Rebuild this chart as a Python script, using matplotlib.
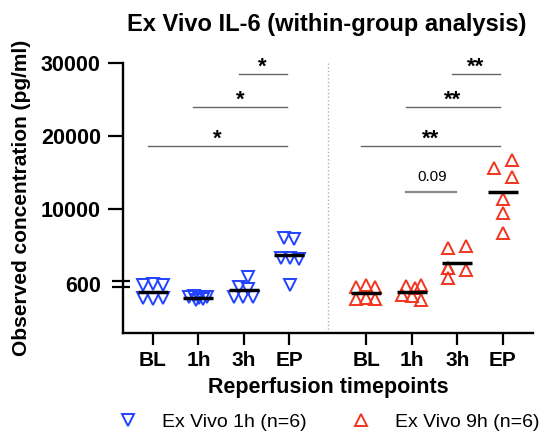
import matplotlib
matplotlib.use('Agg')
import matplotlib.pyplot as plt
import matplotlib.transforms as mtransforms
from matplotlib.lines import Line2D
import numpy as np

plt.rcParams['font.family'] = ['Liberation Sans', 'DejaVu Sans']

timepoints = ["BL", "1h", "3h", "EP"]

# pg/ml (6 animals per timepoint)
vivo1h = {
    "BL": [595, 598, 588, 430, 425, 432],
    "1h": [445, 457, 432, 420, 445, 408],
    "3h": [750, 571, 542, 448, 450, 446],
    "EP": [6100, 6000, 3350, 3300, 3280, 590],
}
vivo9h = {
    "BL": [563, 591, 563, 416, 429, 416],
    "1h": [579, 551, 591, 469, 457, 408],
    "3h": [4680, 4993, 2033, 1719, 620, 2060],
    "EP": [15590, 16725, 14450, 11365, 9455, 6810],
}
# horizontal scatter of the dots (pixels)
jitter1h = {
    "BL": [-10, 0, 10, -10, 0, 10],
    "1h": [-9, -4, 1, 5, 9, -2],
    "3h": [4, -4.5, 4, -9.5, -1, 9],
    "EP": [-5, 5, -8.3, 0.7, 9.3, 0.7],
}
jitter9h = {
    "BL": [-10, 0, 9, -10, 0, 9],
    "1h": [-6, 3, 9.7, -9.3, 0.7, 9],
    "3h": [-9, 9, -9, 9, -9, -9],
    "EP": [-9, 9, 9, 0, 0, 0],
}

# comparisons: (group, from, to, y, label)
brackets = [
    ("1h", "BL", "EP", 18600, "*"),
    ("1h", "1h", "EP", 23900, "*"),
    ("1h", "3h", "EP", 28500, "*"),
    ("9h", "BL", "EP", 18600, "**"),
    ("9h", "1h", "EP", 23900, "**"),
    ("9h", "3h", "EP", 28500, "**"),
    ("9h", "1h", "3h", 12400, "0.09"),
]

BLUE = '#2143ff'
RED = '#f2351f'

# broken y axis: 0-600 on a short lower segment, 600-30000 above it
BRK = 600
LOW_K = 49.0 / 600
UP0 = 55.0
UP_K = 0.00733


def fwd(y):
    y = np.asarray(y, dtype=float)
    return np.where(y <= BRK, y * LOW_K, UP0 + (y - BRK) * UP_K)


def inv(h):
    h = np.asarray(h, dtype=float)
    return np.where(h <= BRK * LOW_K, h / LOW_K,
                    np.where(h < UP0, BRK, BRK + (h - UP0) / UP_K))


fig = plt.figure(figsize=(5.41, 4.38), dpi=100)
ax = fig.add_axes([123 / 541, (438 - 333.3) / 438, 410 / 541, 270.6 / 438])
ax.set_yscale('function', functions=(fwd, inv))

px = 45.5  # pixels per category step
x1 = np.arange(4)
x9 = np.arange(4) + 4.686
xpos = {"1h": dict(zip(timepoints, x1)), "9h": dict(zip(timepoints, x9))}

for grp, data, jit, xs, col, mk in [("1h", vivo1h, jitter1h, x1, BLUE, 'v'),
                                    ("9h", vivo9h, jitter9h, x9, RED, '^')]:
    for tp, x in zip(timepoints, xs):
        vals = np.array(data[tp])
        xx = x + np.array(jit[tp]) / px
        ax.plot(xx, vals, ls='none', marker=mk, ms=8.3, mfc='none',
                mec=col, mew=1.4, zorder=3)
        ax.plot([x - 0.33, x + 0.33], [vals.mean()] * 2, color='black',
                lw=2.5, zorder=4, solid_capstyle='butt')

for grp, a, b, y, lab in brackets:
    xa = xpos[grp][a] - 0.12
    xb = xpos[grp][b] - 0.06
    if lab == "0.09":
        ax.plot([xa, xpos[grp][b] - 0.03], [y, y], color='#8a8a8a', lw=1.6)
        ax.annotate(lab, ((xa + xpos[grp][b]) / 2, y), xytext=(0, 8),
                    textcoords='offset points', ha='center', va='baseline',
                    fontsize=11)
    else:
        ax.plot([xa, xb], [y, y], color='#666666', lw=1.0)
        ax.annotate(lab, ((xa + xb) / 2, y), xytext=(0, 1),
                    textcoords='offset points', ha='center', va='baseline',
                    fontsize=16, fontweight='bold')

# dotted divider between the two groups
ax.axvline((x1[-1] + x9[0]) / 2, color='#b0b0b0', lw=1, ls=':', zorder=1)

ax.set_xlim(-0.659, 8.352)
ax.set_ylim(0, 30000)
ax.set_xticks(list(x1) + list(x9))
ax.set_xticklabels(timepoints * 2, fontsize=15, fontweight='bold')
ax.set_yticks([600, 10000, 20000, 30000])
ax.set_yticklabels(["600", "10000", "20000", "30000"], fontsize=15.5,
                   fontweight='bold')
ax.yaxis.get_major_ticks()[0].tick1line.set_visible(False)
ax.tick_params(axis='y', length=11, width=1.6, pad=5)
ax.tick_params(axis='x', length=8.5, width=1.6, pad=4)
for s in ['top', 'right']:
    ax.spines[s].set_visible(False)
for s in ['left', 'bottom']:
    ax.spines[s].set_linewidth(1.7)

# break marks "=" on the y axis
base = mtransforms.blended_transform_factory(ax.transAxes, ax.transData)
for dy in (-3, 3):
    tr = base + mtransforms.ScaledTranslation(0, dy / 100, fig.dpi_scale_trans)
    ax.plot([-11 / 410, 7 / 410], [600, 600], color='black', lw=1.6,
            transform=tr, clip_on=False, solid_capstyle='butt')

ax.set_xlabel("Reperfusion timepoints", fontsize=15.5, fontweight='bold',
              labelpad=5)
ax.set_ylabel("Observed concentration (pg/ml)", fontsize=15,
              fontweight='bold')
ax.yaxis.set_label_coords(-92 / 410, 0.5)

fig.text(327 / 541, 1 - 25 / 438, "Ex Vivo IL-6 (within-group analysis)",
         ha='center', va='center', fontsize=17, fontweight='bold')

handles = [Line2D([], [], ls='none', marker='v', ms=8.3, mfc='none', mec=BLUE, mew=1.4),
           Line2D([], [], ls='none', marker='^', ms=8.3, mfc='none', mec=RED, mew=1.4)]
fig.legend(handles, ["Ex Vivo 1h (n=6)", "Ex Vivo 9h (n=6)"],
           loc='center left', bbox_to_anchor=(118 / 541, 1 - 422 / 438),
           ncol=2, frameon=False, fontsize=14, handlelength=1.0,
           handletextpad=1.25, columnspacing=2.3, borderpad=0,
           borderaxespad=0)

fig.savefig('out.png', dpi=100)
